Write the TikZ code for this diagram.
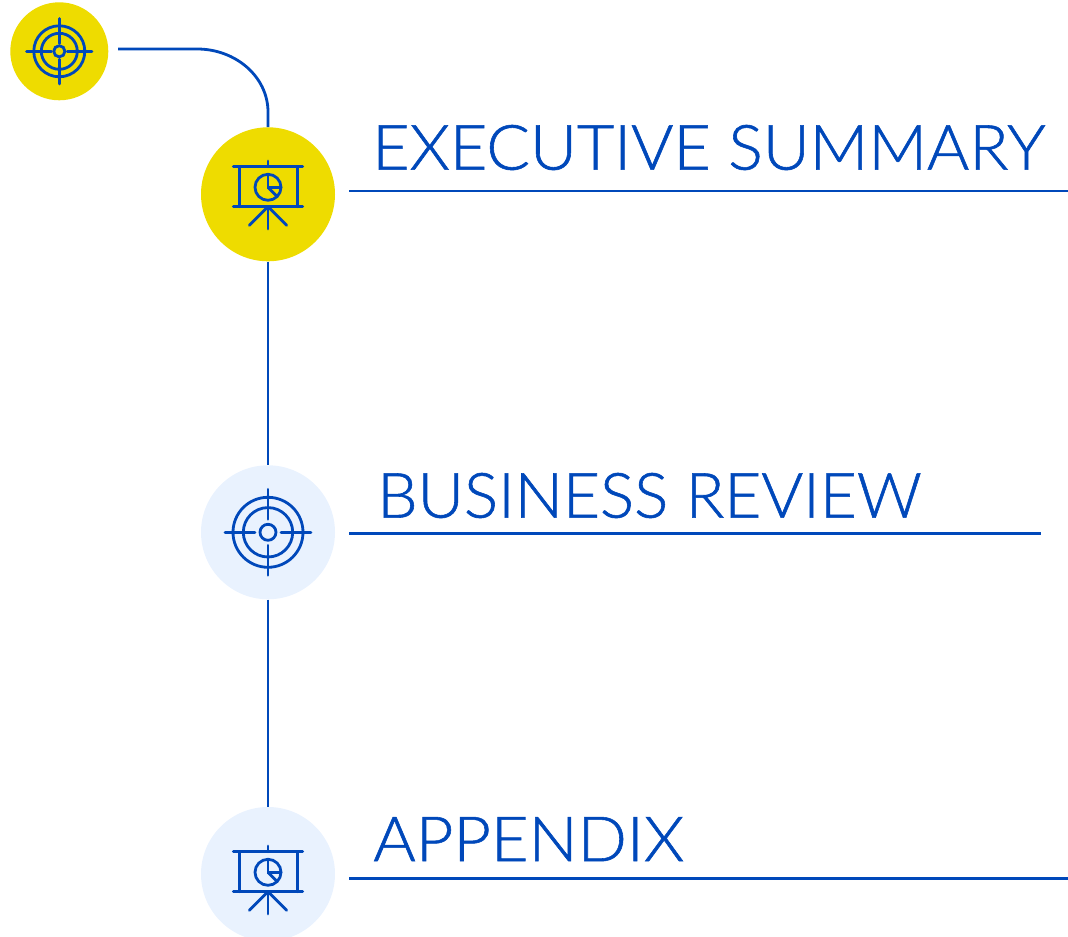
\documentclass[tikz,border=0pt]{standalone}
\usepackage{fontspec}
\setmainfont{Lato}[UprightFont=* Light,FakeBold=0.9]
\definecolor{brand}{HTML}{0048BA}
\definecolor{sun}{HTML}{EEDC00}
\definecolor{pale}{HTML}{E9F2FE}
\tikzset{
  x=0.75pt,y=-0.75pt,
  line/.style={draw=brand,line width=2.1pt},
  icon/.style={draw=brand,line width=2.1pt,line cap=round},
  disc/.style={circle,inner sep=0pt,minimum size=100.5pt},
  smalldisc/.style={circle,inner sep=0pt,minimum size=73.5pt},
  title/.style={anchor=base west,inner sep=0pt,text=brand,font=\fontsize{48.5pt}{58pt}\selectfont},
  board/.pic={
    \draw[icon] (-34.7,-20.6) -- (34.7,-20.6);
    \draw[icon] (-34.7,19.4) -- (34.7,19.4);
    \draw[icon] (-28.7,-20.6) -- (-28.7,19.4);
    \draw[icon] (29.3,-20.6) -- (29.3,19.4);
    \draw[icon] (0,-26.3) -- (0,-20.6);
    \draw[icon] (0,19.4) -- (0,41.7);
    \draw[icon] (0,19.4) -- (-18.7,38);
    \draw[icon] (0,19.4) -- (18.7,38);
    \draw[icon] (0,0) circle (13);
    \draw[icon] (0,-13) -- (0,0) -- (13,0);
    \draw[icon] (0,0) -- (9.2,9.2);
  },
  target/.pic={
    \draw[icon] (0,0) circle (35);
    \draw[icon] (0,0) circle (24.7);
    \draw[icon] (0,0) circle (8);
    \draw[icon] (-43,0) -- (-13,0);
    \draw[icon] (13,0) -- (43,0);
    \draw[icon] (0,-43) -- (0,-13);
    \draw[icon] (0,13) -- (0,43);
  },
  smalltarget/.pic={
    \draw[icon] (0,0) circle (25.5);
    \draw[icon] (0,0) circle (18);
    \draw[icon] (0,0) circle (5.6);
    \draw[icon] (-32.7,0) -- (-8,0);
    \draw[icon] (8,0) -- (32.7,0);
    \draw[icon] (0,-32.7) -- (0,-8);
    \draw[icon] (0,8) -- (0,32.7);
  },
}
\begin{document}
\begin{tikzpicture}
\useasboundingbox (0,0) rectangle (1068,937);
\clip (0,0) rectangle (1068,937);
% discs
\node[smalldisc,fill=sun] (start) at (59.3,51.3) {};
\node[disc,fill=sun] (exec) at (268,194.3) {};
\node[disc,fill=pale] (biz) at (268,532.3) {};
\node[disc,fill=pale] (app) at (268,874) {};
% icons
\pic at (start.center) {smalltarget};
\pic at (268,187.3) {board};
\pic at (biz.center) {target};
\pic at (268,872.3) {board};
% connectors
\coordinate (curvestart) at (118,49);
\coordinate (bendstart) at (197,49);
\draw[line] (curvestart) -- (bendstart) .. controls (236,49) and (268,77) .. (268,112) -- (exec.north);
\draw[line] (exec.south) -- (biz.north);
\draw[line] (biz.south) -- (app.north);
% titles
\node[title] (t1) at (372,169.6) {\scalebox{0.998}[0.965]{EXECUTIVE SUMMARY}};
\node[title] (t2) at (377,517.6) {\scalebox{0.987}[0.965]{BUSINESS REVIEW}};
\node[title] (t3) at (373,861.2) {\scalebox{1.004}[0.965]{APPENDIX}};
% rules
\coordinate (r1a) at (349,191); \coordinate (r1b) at (1068,191);
\coordinate (r2a) at (349,533.5); \coordinate (r2b) at (1041,533.5);
\coordinate (r3a) at (349,878.5); \coordinate (r3b) at (1068,878.5);
\draw[line] (r1a) -- (r1b);
\draw[line] (r2a) -- (r2b);
\draw[line] (r3a) -- (r3b);
\end{tikzpicture}
\end{document}
